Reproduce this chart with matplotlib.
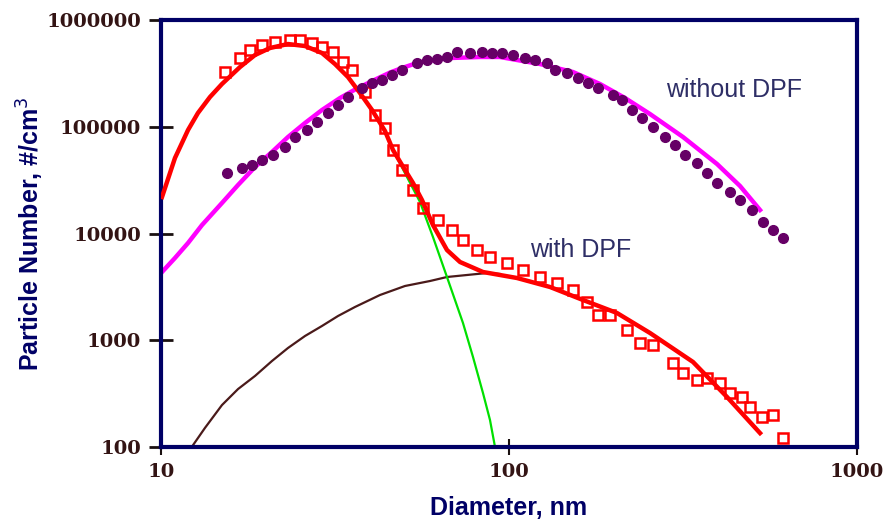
import numpy as np
import matplotlib
matplotlib.use('Agg')
import matplotlib.pyplot as plt
from matplotlib.ticker import FixedLocator, NullLocator, FixedFormatter

# with DPF, measured (squares)
d_with = [15.27, 16.87, 18.02, 19.51, 21.26, 23.48, 25.08, 27.16, 29.01, 31.20,
          33.34, 35.38, 38.57, 41.22, 44.03, 46.42, 49.26, 52.99, 56.61, 62.51,
          68.58, 73.75, 80.91, 88.18, 98.69, 109.7, 122.8, 137.4, 152.7, 167.5,
          180.2, 195.1, 218.3, 237.8, 259.3, 296.0, 316.2, 346.9, 370.7, 404.0,
          431.6, 467.2, 492.6, 533.3, 573.6, 612.9]
n_with = [325800, 440600, 523600, 583200, 622000, 649400, 649400, 608900, 558700, 501600,
          404200, 340100, 211600, 128900, 97340, 60560, 39330, 25560, 17330, 13380,
          10790, 8692, 7003, 6024, 5292, 4550, 3913, 3439, 2956, 2282,
          1724, 1724, 1247, 942, 903, 612, 493, 424, 443, 398,
          320, 294, 237, 191, 199, 121]

# with DPF, total fit
d_fit_with = [10.07, 10.97, 11.96, 12.77, 13.83, 14.97, 16.87, 18.63, 20.57, 23.17,
              25.93, 29.01, 31.62, 34.46, 37.31, 40.41, 44.03, 46.42, 49.26, 52.99,
              56.23, 60.47, 66.34, 72.32, 84.19, 105.4, 131.2, 163.2, 204.3, 254.2,
              337.8, 423.1, 526.3]
n_fit_with = [21980, 50970, 93240, 134500, 190000, 251500, 362800, 470100, 546800, 596000,
              570700, 490900, 387000, 292400, 207100, 143500, 91250, 60560, 43820, 29730,
              20590, 12010, 7003, 5408, 4358, 3830, 3154, 2382, 1800, 1169,
              626, 294, 135]

# with DPF, nucleation mode (green) and accumulation mode (brown)
d_nuc = [46.42, 50.92, 55.50, 60.47, 66.34, 73.75, 78.80, 84.19, 88.18, 91.16]
n_nuc = [60560, 33830, 19730, 9272, 3913, 1451, 697, 320, 179, 100]
d_acc = [12.36, 13.38, 14.97, 16.65, 18.63, 20.84, 23.17, 25.93, 29.01, 32.26,
         36.09, 42.59, 50.24, 59.29, 66.34, 75.73, 86.45, 94.23]
n_acc = [104, 151, 247, 349, 463, 639, 846, 1096, 1360, 1687,
         2049, 2654, 3223, 3589, 3913, 4086, 4266, 4175]

# without DPF, measured (dots)
d_without = [15.47, 17.09, 18.26, 19.51, 20.98, 22.72, 24.27, 26.28, 28.07, 30.19,
             32.26, 34.46, 37.80, 40.41, 43.16, 46.11, 49.26, 54.40, 58.13, 62.09,
             66.34, 70.88, 77.24, 83.63, 89.35, 95.48, 102.7, 111.2, 118.8, 128.6,
             135.6, 146.8, 157.8, 168.7, 180.2, 199.0, 211.2, 225.6, 241.0, 259.3,
             280.7, 299.9, 320.4, 346.9, 370.7, 396.0, 431.6, 461.1, 499.2, 537.0,
             573.6, 612.9]
n_without = [36870, 41070, 43820, 48800, 54360, 64600, 80170, 93240, 110800, 134500,
             159800, 190000, 230700, 256900, 274100, 305300, 340100, 395600, 422000, 431200,
             450300, 501600, 490900, 501600, 490900, 490900, 470100, 440600, 422000, 395600,
             340100, 318800, 286200, 256900, 230700, 198400, 178100, 143500, 120800, 99470,
             80170, 67450, 54360, 45740, 36870, 29730, 24480, 20590, 16600, 12820,
             10790, 9075]

# without DPF, fit
d_fit_without = [10.07, 10.97, 11.96, 13.12, 14.97, 16.65, 18.63, 20.84, 23.17, 25.93,
                 29.01, 32.69, 36.09, 40.41, 45.50, 49.26, 55.50, 67.67, 82.54, 94.23,
                 105.4, 122.8, 152.7, 182.6, 215.4, 254.2, 316.2, 396.0, 461.1, 526.3]
n_fit_without = [4358, 5895, 8147, 12010, 19310, 28470, 41980, 58000, 80170, 108400,
                 143500, 185900, 223000, 268000, 322000, 355100, 404200, 440600, 450300, 450300,
                 422000, 387000, 325800, 251500, 185900, 131600, 80170, 44780, 27860, 16600]

yticks = [100, 1000, 10000, 100000, 1000000]
xticks = [10, 100, 1000]

navy = '#000066'
fig = plt.figure(figsize=(8.83, 5.2), dpi=100)
ax = fig.add_axes([0.1823, 0.1404, 0.7883, 0.8211])

ax.plot(d_fit_without, n_fit_without, '-', color='#ff00ff', lw=3.2, zorder=2)
ax.plot(d_acc, n_acc, '-', color='#4a1a1a', lw=1.6, zorder=2)
ax.plot(d_nuc, n_nuc, '-', color='#00e000', lw=1.6, zorder=2)
ax.plot(d_fit_with, n_fit_with, '-', color='#ff0000', lw=3.2, zorder=3)
ax.plot(d_with, n_with, 's', mfc='none', mec='#ff0000', mew=1.8, ms=7, zorder=4)
ax.plot(d_without, n_without, 'o', color='#660066', ms=7, zorder=5)

ax.set_xscale('log')
ax.set_yscale('log')
ax.set_xlim(10, 1000)
ax.set_ylim(100, 1000000)

ax.xaxis.set_major_locator(FixedLocator(xticks))
ax.xaxis.set_major_formatter(FixedFormatter([str(v) for v in xticks]))
ax.yaxis.set_major_locator(FixedLocator(yticks))
ax.yaxis.set_major_formatter(FixedFormatter([str(v) for v in yticks]))
ax.xaxis.set_minor_locator(NullLocator())
ax.yaxis.set_minor_locator(NullLocator())

for lab in ax.get_xticklabels() + ax.get_yticklabels():
    lab.set_fontfamily('DejaVu Serif')
    lab.set_fontweight('bold')
    lab.set_fontsize(14)
    lab.set_color('#331414')
ax.tick_params(axis='y', direction='inout', length=17, width=2, color='#1a1010', pad=6)
ax.tick_params(axis='x', direction='inout', length=11, width=1.5, color='#1a1010', pad=6)

for s in ax.spines.values():
    s.set_color(navy)
    s.set_linewidth(3)

ax.set_xlabel('Diameter, nm', fontsize=18, fontweight='bold', color=navy,
              fontfamily='Liberation Sans', labelpad=11)
ax.set_ylabel('Particle Number, #/cm$^3$', fontsize=18, fontweight='bold', color=navy,
              fontfamily='Liberation Sans', labelpad=0)

ax.text(0.725, 0.835, 'without DPF', transform=ax.transAxes, fontsize=18,
        color='#2e2e66', fontfamily='Liberation Sans', ha='left', va='center')
ax.text(0.53, 0.461, 'with DPF', transform=ax.transAxes, fontsize=18,
        color='#2e2e66', fontfamily='Liberation Sans', ha='left', va='center')

plt.savefig('out.png', dpi=100)
